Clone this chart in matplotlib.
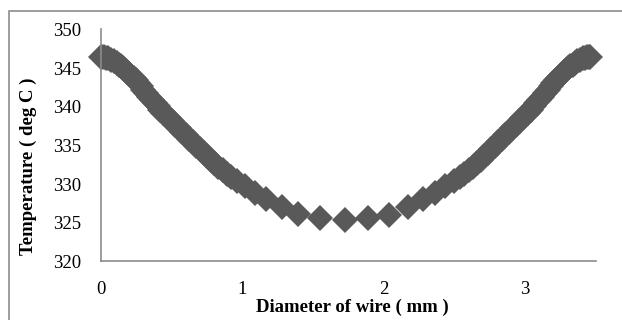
import matplotlib
matplotlib.use("Agg")
import matplotlib.pyplot as plt
from matplotlib.patches import Rectangle

plt.rcParams['font.family'] = ['Liberation Serif', 'DejaVu Serif']

# diameter positions (mm)
diameter = [0.00, 0.01, 0.02, 0.035, 0.05, 0.07, 0.09, 0.11, 0.125, 0.14, 0.155, 0.17,
            0.185, 0.20, 0.215, 0.23, 0.245, 0.26, 0.28, 0.30, 0.32, 0.34, 0.36, 0.38,
            0.40, 0.42, 0.44, 0.46, 0.48, 0.50, 0.525, 0.55, 0.575, 0.60, 0.625, 0.65,
            0.675, 0.70, 0.725, 0.75, 0.775, 0.80, 0.83, 0.86, 0.89, 0.92, 0.96,
            1.02, 1.09, 1.17, 1.28, 1.39, 1.55, 1.725,
            1.89, 2.04, 2.17, 2.28, 2.36, 2.43, 2.50,
            2.54, 2.57, 2.60, 2.63, 2.66, 2.685, 2.71, 2.735, 2.76, 2.785, 2.81,
            2.835, 2.86, 2.885, 2.91, 2.935, 2.96, 2.98, 3.00, 3.02, 3.04, 3.06, 3.08,
            3.10, 3.12, 3.14, 3.16, 3.18, 3.20, 3.215, 3.23, 3.245, 3.26, 3.275, 3.29,
            3.305, 3.32, 3.335, 3.35, 3.37, 3.39, 3.41, 3.425, 3.44, 3.45, 3.46]

# temperature (deg C)
temperature = [346.4, 346.4, 346.38, 346.33, 346.25, 346.1, 345.9, 345.65, 345.45, 345.25, 345.03, 344.8,
               344.55, 344.3, 344.0, 343.7, 343.4, 343.1, 342.65, 342.2, 341.75, 341.3, 340.9, 340.5,
               340.05, 339.6, 339.25, 338.9, 338.5, 338.1, 337.65, 337.2, 336.75, 336.3, 335.85, 335.4,
               334.95, 334.5, 334.05, 333.6, 333.15, 332.7, 332.25, 331.8, 331.35, 330.9, 330.4,
               329.7, 328.9, 328.1, 327.0, 326.1, 325.6, 325.3,
               325.6, 326.05, 327.0, 328.1, 328.9, 329.7, 330.4,
               330.9, 331.35, 331.8, 332.25, 332.7, 333.15, 333.6, 334.05, 334.5, 334.95, 335.4,
               335.85, 336.3, 336.75, 337.2, 337.65, 338.1, 338.5, 338.9, 339.25, 339.6, 340.05, 340.5,
               340.9, 341.3, 341.75, 342.2, 342.65, 343.1, 343.4, 343.7, 344.0, 344.3, 344.55, 344.8,
               345.03, 345.25, 345.45, 345.65, 345.9, 346.1, 346.25, 346.33, 346.38, 346.4, 346.4]

x_ticks = [0, 1, 2, 3]
y_ticks = [320, 325, 330, 335, 340, 345, 350]

fig = plt.figure(figsize=(6.22, 3.2), dpi=100)
ax = fig.add_axes([0.1624, 0.183, 0.7956, 0.725])

ax.plot(diameter, temperature, linestyle='none', marker='D', markersize=13.5,
        color='#595959', markeredgewidth=0, clip_on=False)

ax.set_xlim(0, 3.5)
ax.set_ylim(320, 350)
ax.set_xticks(x_ticks)
ax.set_yticks(y_ticks)
ax.tick_params(length=0, labelsize=13.5, pad=14)

for side in ['top', 'right']:
    ax.spines[side].set_visible(False)
for side in ['left', 'bottom']:
    ax.spines[side].set_color('#8c8c8c')
    ax.spines[side].set_linewidth(1.2)

fig.text(0.045, 0.481, 'Temperature ( deg C )', rotation=90, ha='center', va='center',
         fontsize=13.5, fontweight='bold')
fig.text(0.566, 0.04, 'Diameter of wire ( mm )', ha='center', va='center',
         fontsize=13.5, fontweight='bold')

# chart-area frame
fig.patches.append(Rectangle((9 / 622, -0.1), 1.2, (320 - 11) / 320 + 0.1,
                             transform=fig.transFigure, fill=False,
                             edgecolor='#8c8c8c', linewidth=1.2))

fig.savefig('out.png', dpi=100)
